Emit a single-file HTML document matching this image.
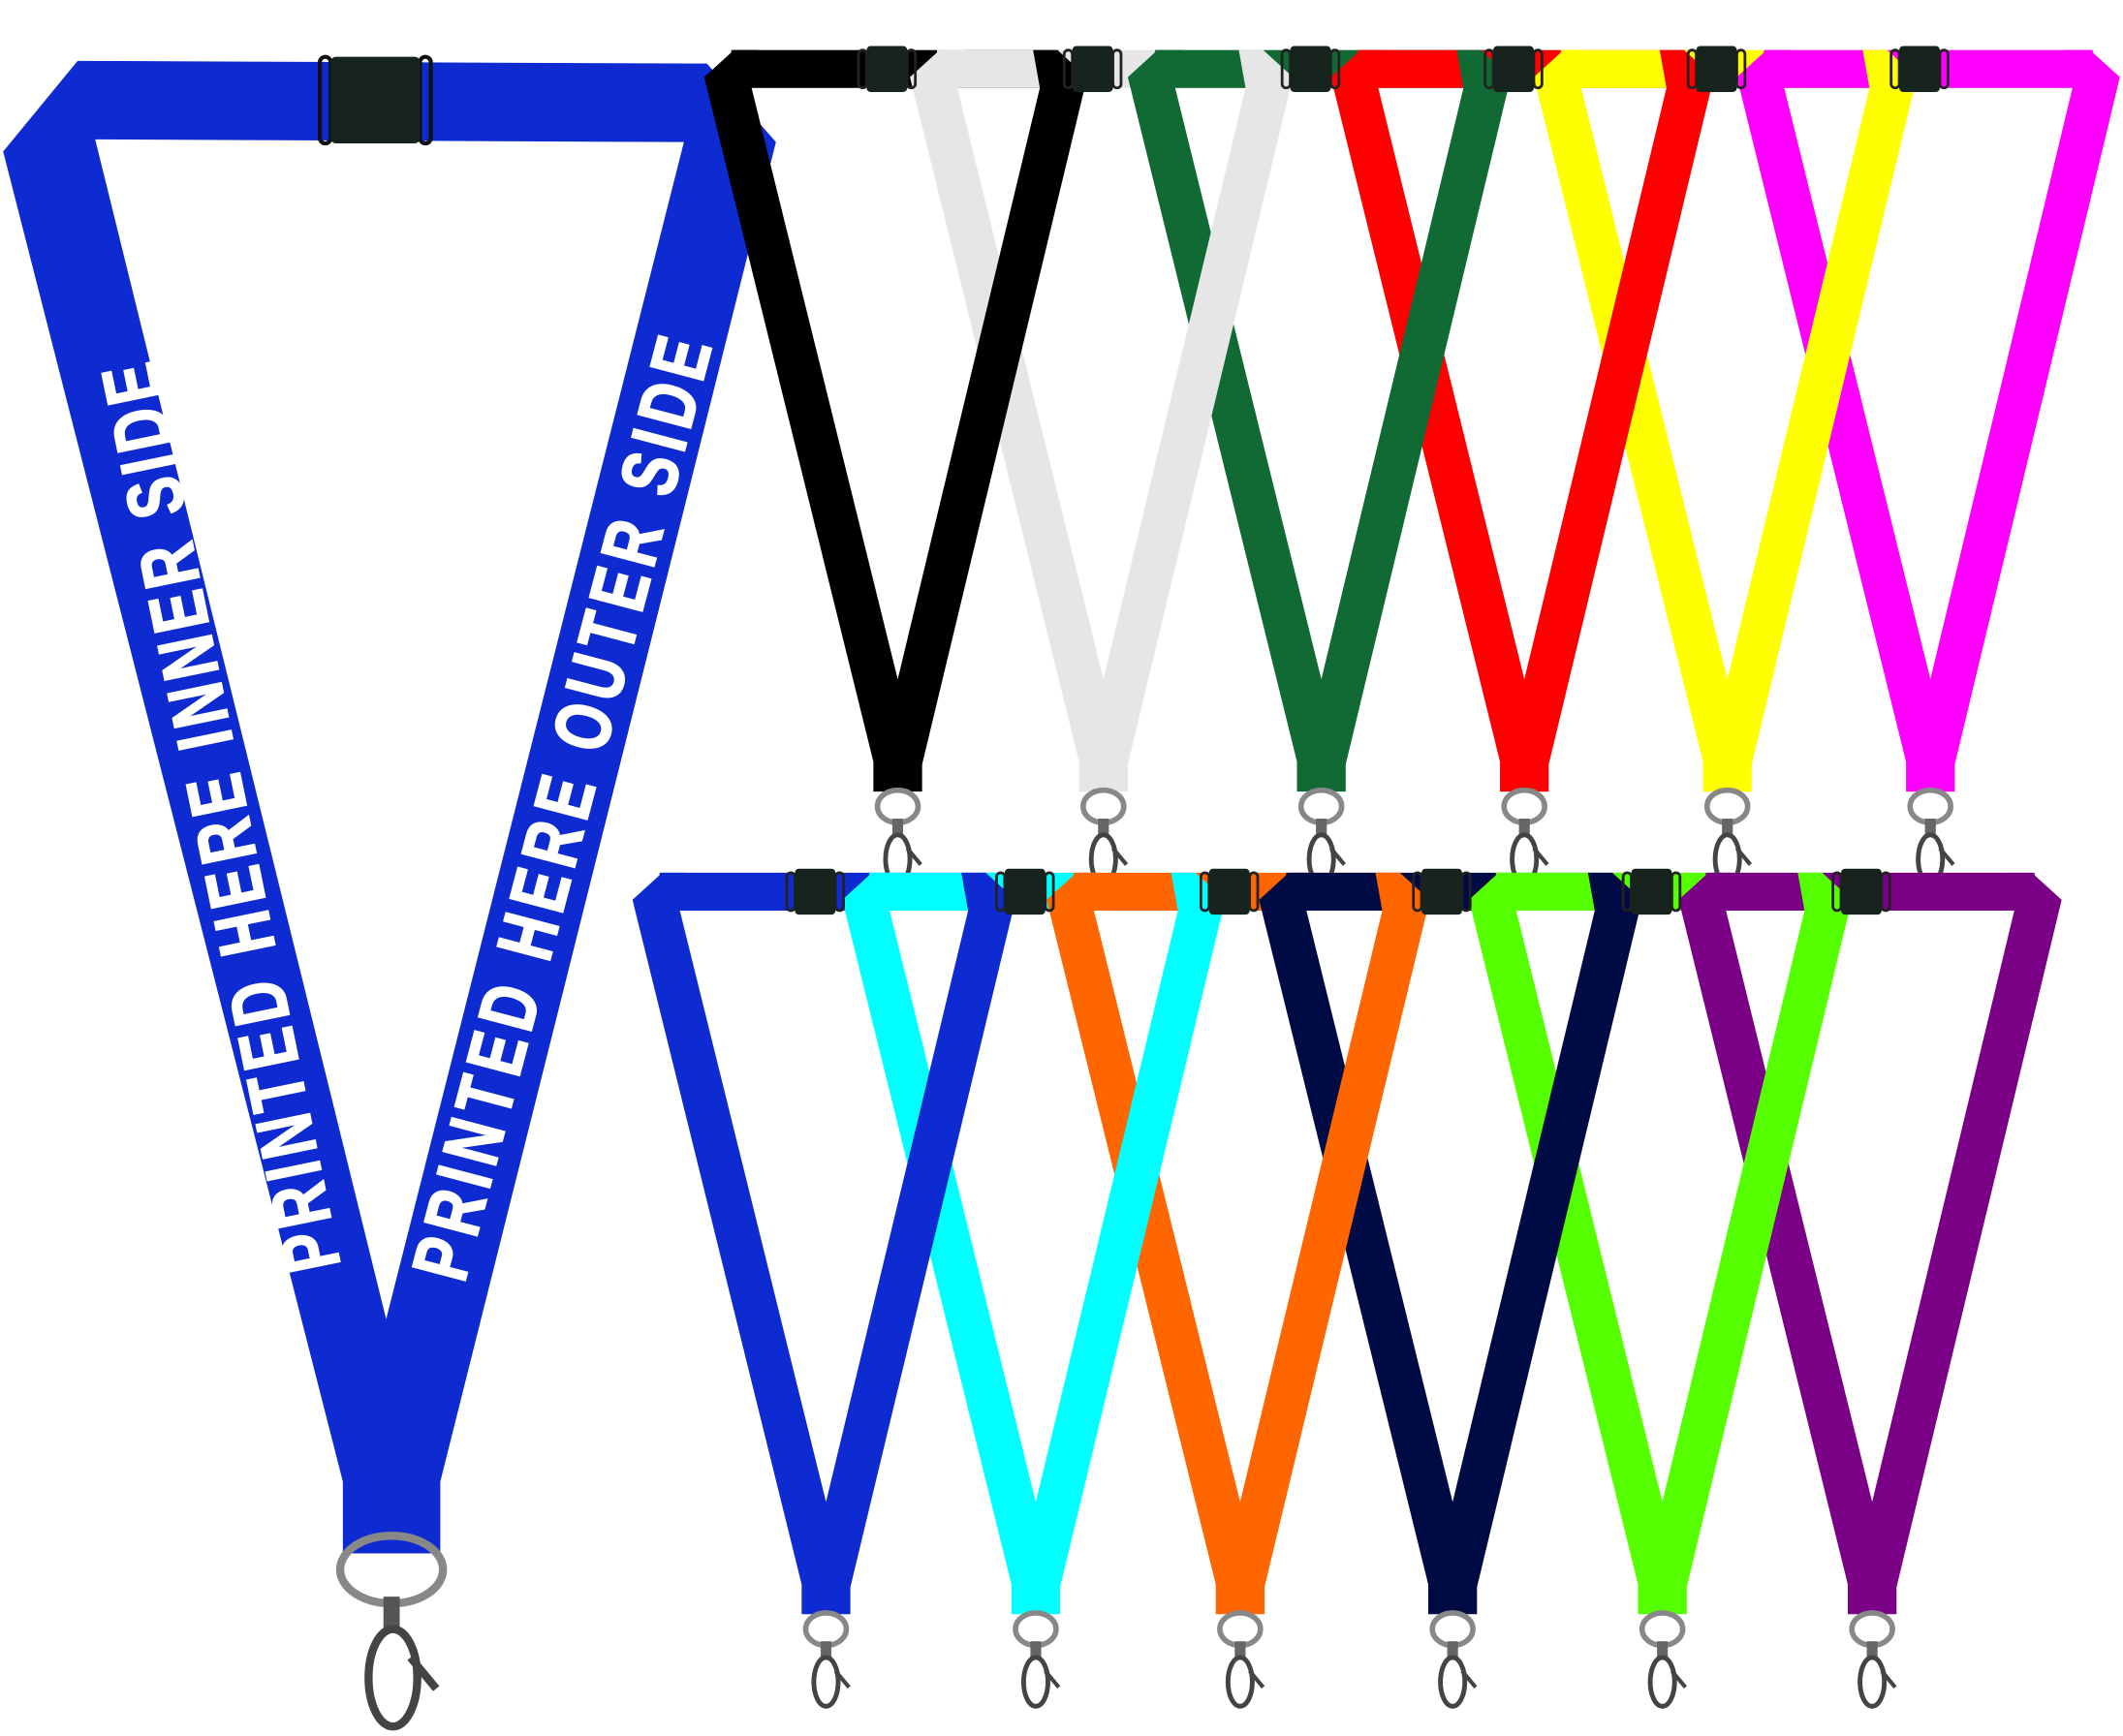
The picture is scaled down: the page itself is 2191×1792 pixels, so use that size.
<!DOCTYPE html>
<html><head><meta charset="utf-8"><style>html,body{margin:0;padding:0;background:#fff}svg{display:block}</style></head>
<body>
<svg width="2191" height="1792" viewBox="0 0 1568 1283" xmlns="http://www.w3.org/2000/svg">
<defs>
<symbol id="ls" overflow="visible"><rect x="20" y="0" width="243" height="28" fill="currentColor"/><polygon points="0,20 22,0 40,0 35,28 143,465 161,465 161,548 125,548 125,526" fill="currentColor"/></symbol>
<symbol id="rs" overflow="visible"><polygon points="283,20 261,0 243,0 248,28 143,465 161,528" fill="currentColor"/></symbol>
<symbol id="bk" overflow="visible"><rect x="114" y="0" width="6" height="28" rx="3" fill="none" stroke="#222" stroke-width="2"/><rect x="150" y="0" width="6" height="28" rx="3" fill="none" stroke="#222" stroke-width="2"/><rect x="120" y="-3" width="30" height="34" rx="3" fill="#16241d"/></symbol>
<symbol id="hw" overflow="visible"><ellipse cx="143" cy="559" rx="15" ry="12" fill="none" stroke="#888" stroke-width="4"/><rect x="139" y="568" width="8" height="12" fill="#666"/><ellipse cx="143" cy="598" rx="9" ry="18" fill="none" stroke="#444" stroke-width="3.5"/><line x1="150" y1="590" x2="160" y2="602" stroke="#444" stroke-width="3"/></symbol>
</defs>

<!-- big blue lanyard -->
<path fill-rule="evenodd" fill="#0d2bd0" d="M2,112 L57,45 L522,47 L573,105 L325,1095 L325,1148 L253,1148 L253,1095 Z M70,103 L505,105 L285,975 Z"/>
<g transform="translate(163,602) rotate(-101.6) scale(0.75,1)"><text x="0" y="0" text-anchor="middle" dominant-baseline="central" font-family="Liberation Sans, sans-serif" font-weight="bold" font-size="58" letter-spacing="6" fill="#fff" stroke="#fff" stroke-width="1.5">PRINTED HERE INNER SIDE</text></g>
<g transform="translate(416,595) rotate(-75.2) scale(0.75,1)"><text x="0" y="0" text-anchor="middle" dominant-baseline="central" font-family="Liberation Sans, sans-serif" font-weight="bold" font-size="58" letter-spacing="7" fill="#fff" stroke="#fff" stroke-width="1.5">PRINTED HERE OUTER SIDE</text></g>
<rect x="236" y="42" width="8" height="64" rx="4" fill="none" stroke="#111" stroke-width="3"/>
<rect x="310" y="42" width="8" height="64" rx="4" fill="none" stroke="#111" stroke-width="3"/>
<rect x="244" y="42" width="66" height="64" rx="4" fill="#16241d"/>
<ellipse cx="289" cy="1160" rx="38" ry="25" fill="none" stroke="#888" stroke-width="6"/>
<rect x="283" y="1180" width="12" height="26" fill="#555"/>
<ellipse cx="290" cy="1240" rx="18" ry="36" fill="none" stroke="#444" stroke-width="6"/>
<line x1="303" y1="1225" x2="322" y2="1248" stroke="#444" stroke-width="6"/>

<!-- top row -->
<g transform="translate(520,37)">
<use href="#ls" x="0" color="#000"/>
<use href="#ls" x="152" color="#e6e6e6"/>
<use href="#ls" x="313" color="#116934"/>
<use href="#ls" x="463" color="#ff0000"/>
<use href="#ls" x="613" color="#ffff00"/>
<use href="#ls" x="763" color="#ff00ff"/>
<use href="#rs" x="0" color="#000"/>
<use href="#rs" x="152" color="#e6e6e6"/>
<use href="#rs" x="313" color="#116934"/>
<use href="#rs" x="463" color="#ff0000"/>
<use href="#rs" x="613" color="#ffff00"/>
<use href="#rs" x="763" color="#ff00ff"/>
<use href="#bk" x="0"/><use href="#bk" x="152"/><use href="#bk" x="313"/><use href="#bk" x="463"/><use href="#bk" x="613"/><use href="#bk" x="763"/>
<use href="#hw" x="0"/><use href="#hw" x="152"/><use href="#hw" x="313"/><use href="#hw" x="463"/><use href="#hw" x="613"/><use href="#hw" x="763"/>
</g>

<!-- bottom row -->
<g transform="translate(467,645)">
<use href="#ls" x="0" color="#0d2bd0"/>
<use href="#ls" x="155" color="#00ffff"/>
<use href="#ls" x="306" color="#ff6600"/>
<use href="#ls" x="463" color="#000a45"/>
<use href="#ls" x="618" color="#55ff00"/>
<use href="#ls" x="773" color="#7a0085"/>
<use href="#rs" x="0" color="#0d2bd0"/>
<use href="#rs" x="155" color="#00ffff"/>
<use href="#rs" x="306" color="#ff6600"/>
<use href="#rs" x="463" color="#000a45"/>
<use href="#rs" x="618" color="#55ff00"/>
<use href="#rs" x="773" color="#7a0085"/>
<use href="#bk" x="0"/><use href="#bk" x="155"/><use href="#bk" x="306"/><use href="#bk" x="463"/><use href="#bk" x="618"/><use href="#bk" x="773"/>
<use href="#hw" x="0"/><use href="#hw" x="155"/><use href="#hw" x="306"/><use href="#hw" x="463"/><use href="#hw" x="618"/><use href="#hw" x="773"/>
</g>
</svg>
</body></html>
